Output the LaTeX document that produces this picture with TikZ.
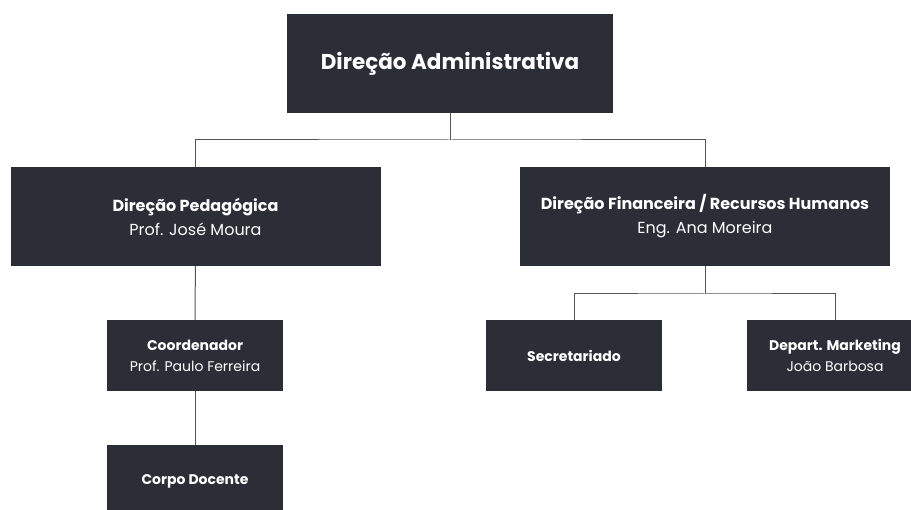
\documentclass[tikz,border=0pt]{standalone}
\usepackage{fontspec}
\setmainfont{Poppins}
\usepackage{tikz}
\usetikzlibrary{positioning}
\definecolor{boxdark}{HTML}{2B2E36}
\definecolor{linkgray}{HTML}{555555}
\tikzset{
	unitbox/.style={fill=boxdark, text=white, align=center, inner sep=0pt},
	topunit/.style={unitbox, minimum width=326pt, minimum height=99pt, font=\fontsize{21.5}{26}\selectfont\bfseries},
	mainunit/.style={unitbox, minimum width=370pt, minimum height=99pt, font=\fontsize{16}{24}\selectfont},
	subunit/.style={unitbox, minimum width=176pt, minimum height=71pt, font=\fontsize{14}{21}\selectfont},
	link/.style={draw=linkgray, line width=1pt}
}

\begin{document}
\begin{tikzpicture}[x=1pt,y=-1pt]
	\useasboundingbox (0,0) rectangle (911,510);
	
	% Level 1
	\node [topunit] at (450,63.5) (dadm) {Direção Administrativa};
	
	% Level 2
	\node [mainunit] at (195.5,216.5) (dped) {\textbf{Direção Pedagógica}\\Prof. José Moura};
	\node [mainunit] at (705,216.5) (dfin) {\textbf{Direção Financeira / Recursos Humanos}\\Eng. Ana Moreira};
	
	% Level 3
	\node [subunit] at (195,355.5) (coord) {\textbf{Coordenador}\\Prof. Paulo Ferreira};
	\node [subunit] at (574,355.5) (secr) {\textbf{Secretariado}};
	\node [subunit] at (835,355.5) (mkt) {\textbf{Depart. Marketing}\\João Barbosa};
	
	% Level 4
	\node [subunit, below=54pt of coord] (docentes) {\textbf{Corpo Docente}};
	
	% Connections
	\coordinate (jadm) at (450,140);
	\coordinate (jfin) at (705,294);
	\draw [link] (dadm) -- (jadm);
	\draw [link] (dped.north) |- (jadm) -| (dfin.north);
	\draw [link] (dfin) -- (jfin);
	\draw [link] (secr.north) |- (jfin) -| (mkt.north);
	\draw [link] (dped) -- (coord);
	\draw [link] (coord) -- (docentes);
	
\end{tikzpicture}
\end{document}
